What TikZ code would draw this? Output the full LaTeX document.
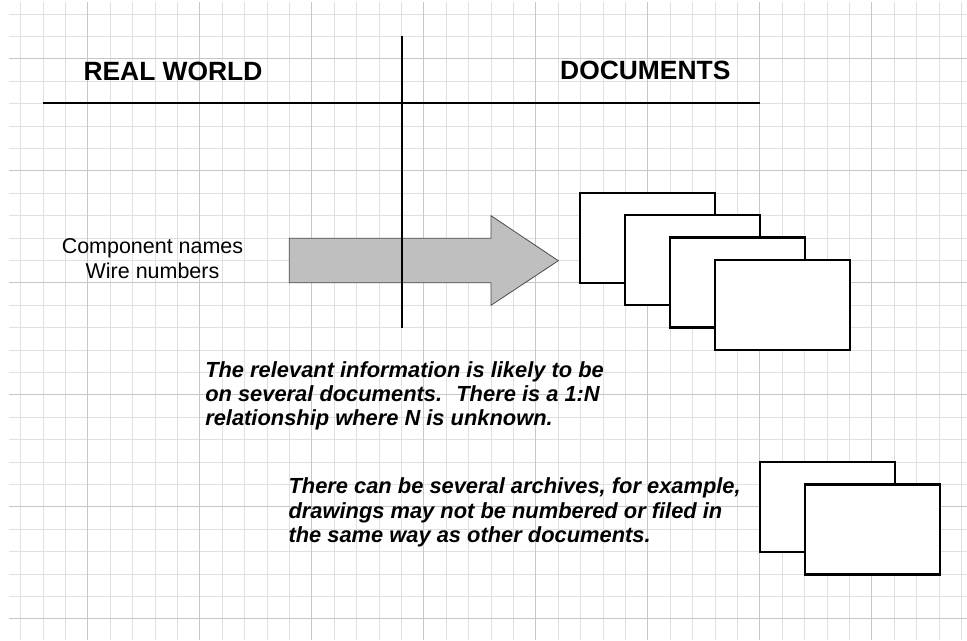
\documentclass[tikz,border=0pt]{standalone}
\usepackage{fontspec}
\setmainfont{Liberation Sans}
\usetikzlibrary{positioning}

\begin{document}
\begin{tikzpicture}[x=0.75pt,y=-0.75pt,
            minor/.style={draw=black!12,line width=0.7pt},
            major/.style={draw=black!22,line width=0.7pt},
            divider/.style={draw=black,line width=0.9pt},
            flow/.style={draw=black!70,fill=black!25,line width=0.6pt},
            title/.style={font=\fontsize{19.8}{24}\selectfont\bfseries,inner sep=0pt,anchor=base},
            plain/.style={font=\fontsize{16.1}{18.8}\selectfont,align=center,inner sep=0pt,anchor=north},
            note/.style={font=\fontsize{16.4}{18.3}\selectfont\bfseries\itshape,align=left,inner sep=0pt,anchor=north west},
            doc/.style={draw=black,fill=white,line width=1.7pt,minimum width=101.25pt,minimum height=67.5pt,inner sep=0pt,outer sep=0pt,anchor=north west}
        ]
            \useasboundingbox (0,0) rectangle (967,640);
            \fill[white] (0,0) rectangle (967,640);

            % Grid paper
            \foreach \k in {0,...,42}
                \draw[minor] ({20.7+22.4*\k},2) -- ({20.7+22.4*\k},640);
            \foreach \k in {0,...,27}
                \draw[minor] (9,{14+22.4*\k}) -- (967,{14+22.4*\k});
            \foreach \k in {3,8,...,38}
                \draw[major] ({20.7+22.4*\k},2) -- ({20.7+22.4*\k},640);
            \foreach \k in {2,7,...,27}
                \draw[major] (9,{14+22.4*\k}) -- (967,{14+22.4*\k});

            % Headings
            \node[title] (real) at (173,80.7) {REAL WORLD};
            \node[title] (docs) at (645.3,79.5) {DOCUMENTS};

            % Big arrow
            \draw[flow] (289.3,238.3) -- (491,238.3) -- (491,215.7) -- (558.3,260.7)
                -- (491,305.3) -- (491,282.7) -- (289.3,282.7) -- cycle;

            % Dividers
            \coordinate (hl) at (43,103);
            \coordinate (hr) at (760,103);
            \coordinate (vt) at (402,36);
            \coordinate (vb) at (402,328);
            \draw[divider] (hl) -- (hr);
            \draw[divider] (vt) -- (vb);

            % Input
            \node[plain] (names) at (152.5,238) {Component names\\Wire numbers};

            % Documents
            \foreach \i in {0,...,3}
                \node[doc] (d\i) at ({580.3+45*\i},{193+22.3*\i}) {};

            % Archives
            \foreach \i in {0,1}
                \node[doc] (a\i) at ({759.7+45*\i},{462.3+22.2*\i}) {};

            % Notes
            \node[note] (rel) at (205,361) {The relevant information is likely to be\\on several documents.~ There is a 1:N\\relationship where N is unknown.};
            \node[note] (arc) at (288.3,477.6) {There can be several archives, for example,\\drawings may not be numbered or filed in\\the same way as other documents.};
        \end{tikzpicture}
\end{document}
